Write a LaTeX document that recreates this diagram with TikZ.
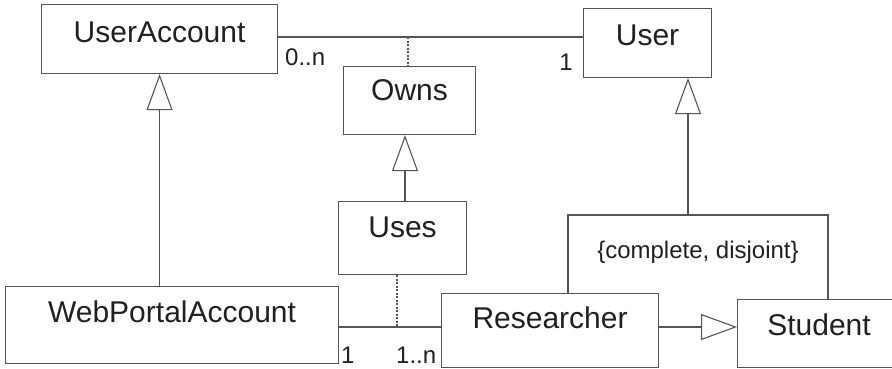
\documentclass[tikz,border=0pt]{standalone}
\usepackage{fontspec}
\setmainfont{Liberation Sans}
\usetikzlibrary{arrows.meta,calc}
\definecolor{linegray}{RGB}{85,85,85}
\definecolor{ink}{RGB}{35,31,32}
\begin{document}
\begin{tikzpicture}[x=1pt,y=-1pt,
  % class box: width, text height (top to baseline), text depth (baseline to bottom)
  cls/.style n args={3}{draw=linegray, line width=1.1pt, inner sep=0pt,
    minimum width=#1, text height=#2, text depth=#3, anchor=north west,
    text=ink, font=\fontsize{30}{36}\selectfont},
  mult/.style={text=ink, inner sep=0pt, font=\fontsize{24}{28}\selectfont},
  conn/.style={draw=linegray, line width=1.1pt},
  gen/.style={conn, -{Triangle[open, length=36pt, width=26pt, line width=1.1pt]}},
  dot/.style={conn, dash pattern=on 2pt off 1.5pt}]
\clip (0,0) rectangle (892,368);
\fill[white] (0,0) rectangle (892,368);

% classes
\node[cls={236}{38}{31}] (ua)   at (41,4)    {UserAccount};
\node[cls={128}{37}{32}] (user) at (583,8)   {User};
\node[cls={132}{34}{34}] (owns) at (343,66)  {Owns};
\node[cls={128}{36}{37}] (uses) at (338,201) {Uses};
\node[cls={333}{36}{41}] (wpa)  at (5,286)   {WebPortalAccount};
\node[cls={217}{35}{39}] (res)  at (441,293) {Researcher};
\node[cls={163}{36}{32}] (stu)  at (737,299) {Student};

% association UserAccount -- User, with association class Owns
\coordinate (ownsjoin) at (408,37);
\draw[conn] (ua.east |- ownsjoin) -- (user.west |- ownsjoin);
\draw[dot] (ownsjoin) -- (ownsjoin |- owns.north);

% association WebPortalAccount -- Researcher, with association class Uses
\coordinate (usesjoin) at (397,327);
\draw[conn] (wpa.east |- usesjoin) -- (res.west |- usesjoin);
\draw[dot] (usesjoin |- uses.south) -- (usesjoin);

% multiplicities
\node[mult, anchor=base west] (m1) at (285,65)  {0..n};
\node[mult, anchor=base east] (m2) at (573,70)  {1};
\node[mult, anchor=base west] (m3) at (341,363) {1};
\node[mult, anchor=base west] (m4) at (396,363) {1..n};

% generalisations
\draw[gen] (ua.south |- wpa.north) -- (ua.south);
\coordinate (usesgen) at (405,0);
\draw[gen] (usesgen |- uses.north) -- (usesgen |- owns.south);
\coordinate (resgen) at (0,327);
\draw[gen] (res.east |- resgen) -- (stu.west |- resgen);

% constrained generalisation set of User
\coordinate (cdl) at (568,215);
\coordinate (cdr) at (828,215);
\coordinate (cdtop) at (688,215);
\draw[conn] (cdl |- res.north) -- (cdl) -- (cdr) -- (cdr |- stu.north);
\draw[gen] (cdtop) -- (cdtop |- user.south);
\node[mult, anchor=base] (cd) at (698,258) {\{complete, disjoint\}};
\end{tikzpicture}
\end{document}
